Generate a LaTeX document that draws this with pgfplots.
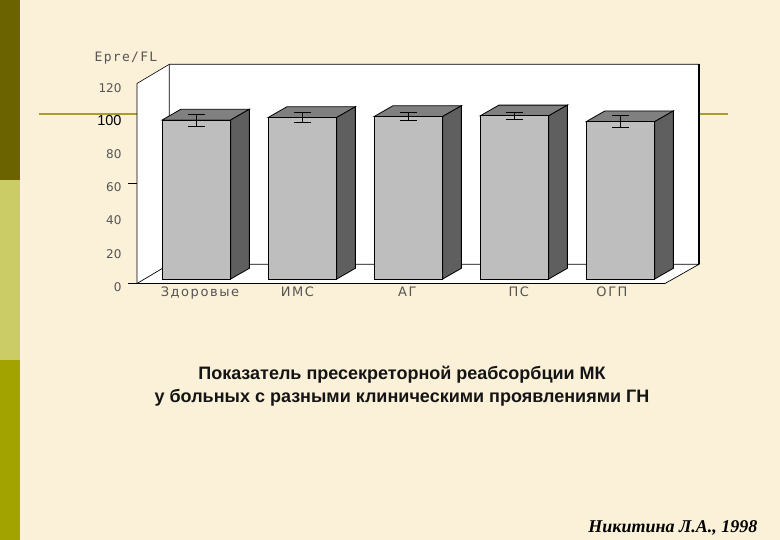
\documentclass[border=0pt]{standalone}
\usepackage{fontspec}
\setmainfont{Liberation Sans}
\newfontfamily\chartfont[LetterSpace=10]{DejaVu Sans Mono}
\newfontfamily\catfont[LetterSpace=12]{DejaVu Sans}
\newfontfamily\numfont{DejaVu Sans}
\newfontfamily\hundredfont{Liberation Sans}
\newfontfamily\authorfont[Ligatures=TeX]{Liberation Serif}
\usepackage{pgfplots}
\pgfplotsset{compat=1.18}

\definecolor{paper}{HTML}{FBF0D8}
\definecolor{stripA}{HTML}{6B6300}
\definecolor{stripB}{HTML}{CCCC66}
\definecolor{stripC}{HTML}{A3A300}
\definecolor{rulecol}{HTML}{A89F28}
\definecolor{barfront}{HTML}{BEBEBE}
\definecolor{bartop}{HTML}{808080}
\definecolor{barside}{HTML}{5F5F5F}
\definecolor{ticktext}{HTML}{555555}

% half bar width, depth offset in axis units
\newcommand{\hw}{0.323}
\newcommand{\dx}{0.176}
\newcommand{\dy}{6.45}
% top and side face of one bar: {category}{value}
\newcommand{\barfaces}[2]{%
  \pgfmathsetmacro{\xa}{#1-\hw}
  \pgfmathsetmacro{\xb}{#1+\hw}
  \pgfmathsetmacro{\xc}{#1+\hw+\dx}
  \pgfmathsetmacro{\xd}{#1-\hw+\dx}
  \pgfmathsetmacro{\yt}{#2+\dy}
  \addplot[fill=bartop,draw=black,line width=0.8pt] coordinates {(\xa,#2) (\xb,#2) (\xc,\yt) (\xd,\yt)} -- cycle;
  \addplot[fill=barside,draw=black,line width=0.8pt] coordinates {(\xb,0) (\xc,\dy) (\xc,\yt) (\xb,#2)} -- cycle;
}

\begin{document}
\begin{tikzpicture}
\path[use as bounding box] (0,0) rectangle (780pt,540pt);
\begin{scope}[x=1pt,y=-1pt,yshift=540pt]
  \fill[paper] (0,0) rectangle (780,540);
  \fill[stripA] (0,0) rectangle (20,180);
  \fill[stripB] (0,180) rectangle (20,360);
  \fill[stripC] (0,360) rectangle (20,540);
  \draw[rulecol,line width=1.8pt] (39,114) -- (728,114);
  % walls and floor
  \fill[white] (137,83.5) -- (169.3,64.3) -- (699,64.3) -- (699,264.3) -- (665,283.5) -- (137,283.5) -- cycle;
  \draw[black,line width=0.6pt] (137,283.5) -- (137,83.5) -- (169.3,64.3) -- (699,64.3);
  \draw[black,line width=1.1pt] (699,64.3) -- (699,264.3);
  \draw[black,line width=0.7pt] (169.3,64.3) -- (169.3,264.3) -- (699,264.3) -- (665,283.5) -- (137,283.5) -- (169.3,264.3);
  \node[font=\chartfont\fontsize{13}{15}\selectfont,text=ticktext] at (126,58) {Epre/FL};
  \node[font=\bfseries\fontsize{18}{20}\selectfont,text=black!92] at (402,375) {Показатель пресекреторной реабсорбции МК};
  \node[font=\bfseries\fontsize{18}{20}\selectfont,text=black!92] at (402,398) {у больных с разными клиническими проявлениями ГН};
  \node[font=\authorfont\bfseries\itshape\fontsize{18}{20}\selectfont,text=black,anchor=east] at (761,528) {Никитина Л.А., 1998};
\end{scope}

% frame axis: ticks and category names
\begin{axis}[
    at={(137pt,257pt)}, anchor=south west,
    scale only axis, width=528pt, height=199.2pt,
    xmin=-0.561, xmax=4.42, ymin=0, ymax=120,
    clip=false,
    axis line style={draw=none},
    xtick pos=bottom, ytick pos=left,
    xtick={0.033,0.953,1.99,3.04,3.92},
    xticklabels={Здоровые,ИМС,АГ,ПС,ОГП},
    ytick={0,20,...,120},
    yticklabels={0,20,40,60,80,{\textcolor{black}{\hundredfont\fontsize{14.5}{16}\selectfont 100}},120},
    major tick length=0pt,
    xticklabel style={font=\catfont\fontsize{13}{15}\selectfont,text=ticktext,yshift=0pt},
    yticklabel style={font=\numfont\fontsize{12}{14}\selectfont,text=ticktext,yshift=-4pt,xshift=-12pt},
    extra y ticks={0,60},
    extra y tick labels={},
    extra y tick style={tick style={draw=black,line width=0.6pt},tick align=outside,major tick length=9pt},
]
\end{axis}

% bars stand 4 px above the front edge of the floor
\begin{axis}[
    at={(137pt,261pt)}, anchor=south west,
    scale only axis, width=528pt, height=199.2pt,
    xmin=-0.561, xmax=4.42, ymin=0, ymax=120,
    hide axis, clip=false,
]
\barfaces{0}{95.8}
\barfaces{1}{97.3}
\barfaces{2}{97.9}
\barfaces{3}{98.3}
\barfaces{4}{94.8}
\addplot[ybar,bar width=68.4pt,fill=barfront,draw=black,line width=0.8pt,
    error bars/.cd, y dir=both, y explicit,
    error mark options={rotate=90,mark size=8.5pt,line width=0.6pt,black},
    error bar style={line width=0.6pt,black}]
  coordinates {
    (0,95.8) +- (0,3.6)
    (1,97.3) +- (0,3.2)
    (2,97.9) +- (0,2.6)
    (3,98.3) +- (0,2.4)
    (4,94.8) +- (0,3.6)
  };
\end{axis}
\end{tikzpicture}
\end{document}
